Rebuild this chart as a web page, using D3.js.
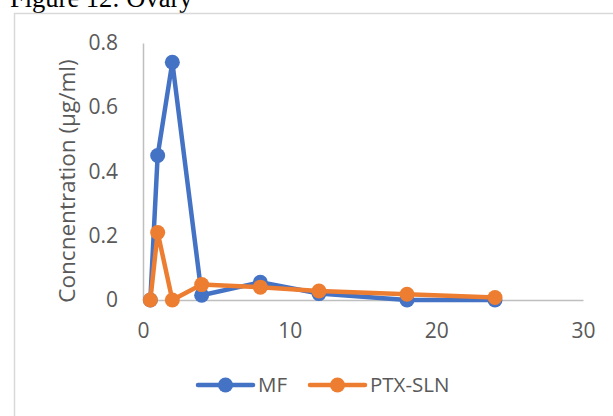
<!DOCTYPE html>
<html>
<head>
<meta charset="utf-8">
<script src="https://cdn.jsdelivr.net/npm/d3@7"></script>
<style>
  html, body { margin: 0; padding: 0; background: #fff; }
  svg { display: block; }
</style>
</head>
<body>
<svg id="chart" width="613" height="416"></svg>
<script>
// Sampling times (h) and concentrations (µg/ml) in ovary tissue
const times = [0.5, 1, 2, 4, 8, 12, 18, 24];
const mfValues = [0, 0.45, 0.74, 0.015, 0.055, 0.02, 0, 0];
const slnValues = [0, 0.21, 0, 0.048, 0.04, 0.028, 0.018, 0.008];
const seriesNames = ["MF", "PTX-SLN"];
const xTicks = [0, 10, 20, 30];
const yTicks = [0, 0.2, 0.4, 0.6, 0.8];

const colors = { "MF": "#4472C4", "PTX-SLN": "#ED7D31" };
const series = [
  { name: seriesNames[0], values: mfValues },
  { name: seriesNames[1], values: slnValues }
];

const svg = d3.select("#chart");
const font = "'Open Sans', 'Noto Sans', sans-serif";

// Caption above the chart frame
svg.append("text")
  .attr("x", 10).attr("y", 7)
  .attr("font-family", "'Liberation Serif', 'Times New Roman', serif")
  .attr("font-size", 26.5)
  .attr("fill", "#000")
  .text("Figure 12: Ovary");

// Chart frame (left and top edges)
svg.append("path")
  .attr("d", "M14.5,430 V13.5 H620")
  .attr("fill", "none")
  .attr("stroke", "#d9d9d9")
  .attr("stroke-width", 1.5);

const x = d3.scaleLinear().domain([0, 30]).range([143, 583]);
const y = d3.scaleLinear().domain([0, 0.8]).range([300, 43]);

// X axis
const xAxis = svg.append("g")
  .attr("transform", `translate(0,${y(0)})`)
  .call(d3.axisBottom(x).tickValues(xTicks).tickSize(0).tickPadding(23).tickFormat(d3.format("d")));
xAxis.select(".domain").attr("stroke", "#bfbfbf").attr("stroke-width", 1.5);
xAxis.selectAll("text").attr("font-family", font).attr("font-size", 21).attr("fill", "#595959");

// Y axis
const yAxis = svg.append("g")
  .attr("transform", `translate(${x(0)},0)`)
  .call(d3.axisLeft(y).tickValues(yTicks).tickSize(0).tickPadding(25).tickFormat(d => d === 0 ? "0" : d3.format(".1f")(d)));
yAxis.select(".domain").attr("stroke", "#bfbfbf").attr("stroke-width", 1.5);
yAxis.selectAll("text").attr("font-family", font).attr("font-size", 21).attr("fill", "#595959");

// Y axis title
svg.append("text")
  .attr("transform", `translate(75,181) rotate(-90)`)
  .attr("text-anchor", "middle")
  .attr("font-family", font)
  .attr("font-size", 22.5)
  .attr("fill", "#595959")
  .text("Concnentration (µg/ml)");

// Series lines and markers
const line = d3.line().x(d => x(d[0])).y(d => y(d[1]));
series.forEach(s => {
  const pts = times.map((t, i) => [t, s.values[i]]);
  const g = svg.append("g");
  g.append("path")
    .attr("d", line(pts))
    .attr("fill", "none")
    .attr("stroke", colors[s.name])
    .attr("stroke-width", 4.5)
    .attr("stroke-linejoin", "round");
  g.selectAll("circle").data(pts).join("circle")
    .attr("cx", d => x(d[0]))
    .attr("cy", d => y(d[1]))
    .attr("r", 7.5)
    .attr("fill", colors[s.name]);
});

// Legend
const legendY = 385;
const legendItems = [
  { name: seriesNames[0], x0: 198 },
  { name: seriesNames[1], x0: 310 }
];
legendItems.forEach(it => {
  const g = svg.append("g");
  g.append("line")
    .attr("x1", it.x0).attr("x2", it.x0 + 55)
    .attr("y1", legendY).attr("y2", legendY)
    .attr("stroke", colors[it.name]).attr("stroke-width", 4.5)
    .attr("stroke-linecap", "round");
  g.append("circle")
    .attr("cx", it.x0 + 27.5).attr("cy", legendY).attr("r", 7.5)
    .attr("fill", colors[it.name]);
  g.append("text")
    .attr("x", it.x0 + 60).attr("y", legendY)
    .attr("dy", "0.35em")
    .attr("font-family", font)
    .attr("font-size", 20.5)
    .attr("fill", "#595959")
    .text(it.name);
});
</script>
</body>
</html>
